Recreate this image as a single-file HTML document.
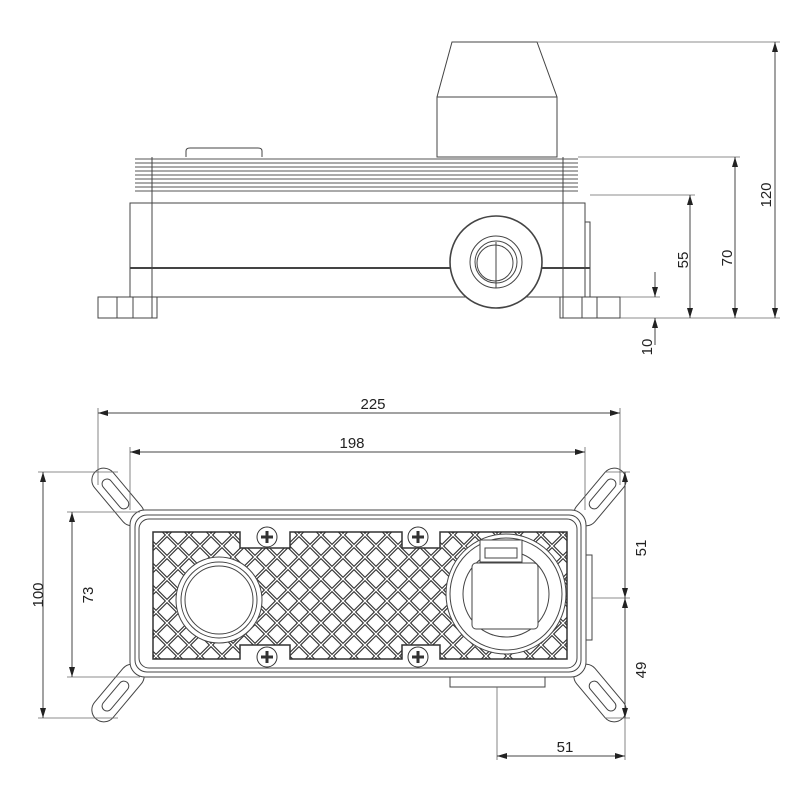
<!DOCTYPE html>
<html><head><meta charset="utf-8"><style>html,body{margin:0;padding:0;background:#fff}svg{display:block}text{font-family:"Liberation Sans",sans-serif;font-size:15px;fill:#222}</style></head><body>
<svg width="800" height="800" viewBox="0 0 800 800" xmlns="http://www.w3.org/2000/svg">
<defs>
<marker id="a" viewBox="0 0 10 6" refX="10" refY="3" markerWidth="10" markerHeight="6" orient="auto-start-reverse"><path d="M0,0L10,3L0,6z" fill="#222"/></marker>
<clipPath id="lat"><path d="M153,532H240V548H290V532H402V548H440V532H567V659H440V645H402V659H290V645H240V659H153Z"/></clipPath>
</defs>
<g fill="none" stroke="#444" stroke-width="1">
<!-- TOP VIEW -->
<path d="M452,42H537L557,97V157H437V97Z" fill="#fff"/>
<line x1="437" y1="97" x2="557" y2="97"/>
<path d="M186,157V151Q186,148 190,148H258Q262,148 262,151V157"/>
<g stroke="#555">
<line x1="135" y1="159" x2="578" y2="159"/><line x1="135" y1="163" x2="578" y2="163"/>
<line x1="135" y1="167" x2="578" y2="167"/><line x1="135" y1="171" x2="578" y2="171"/>
<line x1="135" y1="175" x2="578" y2="175"/><line x1="135" y1="179" x2="578" y2="179"/>
<line x1="135" y1="183" x2="578" y2="183"/><line x1="135" y1="187" x2="578" y2="187"/>
<line x1="135" y1="191" x2="578" y2="191"/>
</g>
<rect x="130" y="203" width="455" height="94"/>
<line x1="130" y1="268" x2="590" y2="268" stroke-width="2"/>
<line x1="152" y1="157" x2="152" y2="318"/><line x1="563" y1="157" x2="563" y2="318"/>
<rect x="585" y="222" width="5" height="75"/>
<circle cx="496" cy="262" r="46" fill="#fff" stroke-width="1.6"/>
<circle cx="496" cy="262" r="26"/><circle cx="496" cy="262" r="21"/><circle cx="495" cy="263" r="18"/>
<line x1="496" y1="242" x2="496" y2="288"/>
<rect x="98" y="297" width="59" height="21"/><line x1="117" y1="297" x2="117" y2="318"/><line x1="133" y1="297" x2="133" y2="318"/>
<rect x="560" y="297" width="60" height="21"/><line x1="582" y1="297" x2="582" y2="318"/><line x1="597" y1="297" x2="597" y2="318"/>
<g stroke="#666" stroke-width="0.8">
<line x1="537" y1="42" x2="780" y2="42"/><line x1="578" y1="157" x2="740" y2="157"/>
<line x1="590" y1="195" x2="695" y2="195"/><line x1="620" y1="297" x2="660" y2="297"/>
<line x1="620" y1="318" x2="780" y2="318"/>
</g>
<line x1="775" y1="42" x2="775" y2="318" marker-start="url(#a)" marker-end="url(#a)"/>
<line x1="735" y1="157" x2="735" y2="318" marker-start="url(#a)" marker-end="url(#a)"/>
<line x1="690" y1="195" x2="690" y2="318" marker-start="url(#a)" marker-end="url(#a)"/>
<line x1="655" y1="272" x2="655" y2="297" marker-end="url(#a)"/>
<line x1="655" y1="345" x2="655" y2="318" marker-end="url(#a)"/>

<!-- BOTTOM VIEW brackets -->
<g transform="translate(118,497) rotate(50)"><rect x="-34" y="-12" width="68" height="24" rx="12"/><rect x="-22" y="-5" width="36" height="10" rx="5"/></g>
<g transform="translate(118,693) rotate(-50)"><rect x="-34" y="-12" width="68" height="24" rx="12"/><rect x="-22" y="-5" width="36" height="10" rx="5"/></g>
<g transform="translate(600,497) rotate(-50)"><rect x="-34" y="-12" width="68" height="24" rx="12"/><rect x="-14" y="-5" width="36" height="10" rx="5"/></g>
<g transform="translate(600,693) rotate(50)"><rect x="-34" y="-12" width="68" height="24" rx="12"/><rect x="-14" y="-5" width="36" height="10" rx="5"/></g>
<rect x="586" y="555" width="6" height="85"/>
<rect x="450" y="677" width="95" height="10"/>
<rect x="130" y="510" width="456" height="167" rx="15" fill="#fff"/>
<rect x="135" y="515" width="446" height="157" rx="12"/>
<rect x="139" y="519" width="438" height="149" rx="10"/>
<g clip-path="url(#lat)">
<g stroke="#333" stroke-width="3.5">
<path id="d1" d="M-22,500L278,800M0,500L300,800M22,500L322,800M44,500L344,800M66,500L366,800M88,500L388,800M110,500L410,800M132,500L432,800M154,500L454,800M176,500L476,800M198,500L498,800M220,500L520,800M242,500L542,800M264,500L564,800M286,500L586,800M308,500L608,800M330,500L630,800M352,500L652,800M374,500L674,800M396,500L696,800M418,500L718,800M440,500L740,800M462,500L762,800M484,500L784,800M506,500L806,800M528,500L828,800M550,500L850,800"/>
<path id="d2" d="M180,500L-120,800M202,500L-98,800M224,500L-76,800M246,500L-54,800M268,500L-32,800M290,500L-10,800M312,500L12,800M334,500L34,800M356,500L56,800M378,500L78,800M400,500L100,800M422,500L122,800M444,500L144,800M466,500L166,800M488,500L188,800M510,500L210,800M532,500L232,800M554,500L254,800M576,500L276,800M598,500L298,800M620,500L320,800M642,500L342,800M664,500L364,800M686,500L386,800M708,500L408,800M730,500L430,800M752,500L452,800M774,500L474,800M796,500L496,800"/>
</g>
<g stroke="#fff" stroke-width="1.2"><use href="#d1"/><use href="#d2"/></g>
</g>
<path d="M153,532H240V548H290V532H402V548H440V532H567V659H440V645H402V659H290V645H240V659H153Z" stroke="#333" stroke-width="1.5"/>
<circle cx="219" cy="600" r="43" fill="#fff"/><circle cx="219" cy="600" r="38"/><circle cx="219" cy="600" r="34"/>
<circle cx="506" cy="594" r="60" fill="#fff"/><circle cx="506" cy="594" r="56"/><circle cx="506" cy="594" r="43"/>
<rect x="472" y="563" width="66" height="66" rx="4" fill="#fff"/>
<rect x="480" y="540" width="42" height="22" fill="#fff"/><rect x="485" y="548" width="32" height="10"/>
<g fill="#fff" stroke="#333">
<circle cx="267" cy="537" r="10"/><circle cx="418" cy="537" r="10"/><circle cx="267" cy="657" r="10"/><circle cx="418" cy="657" r="10"/>
</g>
<g stroke="#333" stroke-width="3"><path d="M261,537h12M267,531v12M412,537h12M418,531v12M261,657h12M267,651v12M412,657h12M418,651v12"/></g>
<g stroke="#666" stroke-width="0.8">
<line x1="98" y1="408" x2="98" y2="485"/><line x1="620" y1="408" x2="620" y2="485"/>
<line x1="130" y1="447" x2="130" y2="510"/><line x1="585" y1="447" x2="585" y2="510"/>
<line x1="38" y1="472" x2="118" y2="472"/><line x1="38" y1="718" x2="118" y2="718"/>
<line x1="67" y1="512" x2="140" y2="512"/><line x1="67" y1="677" x2="140" y2="677"/>
<line x1="605" y1="472" x2="630" y2="472"/><line x1="592" y1="598" x2="630" y2="598"/><line x1="605" y1="718" x2="630" y2="718"/>
<line x1="497" y1="687" x2="497" y2="760"/><line x1="625" y1="718" x2="625" y2="760"/>
</g>
<line x1="98" y1="413" x2="620" y2="413" marker-start="url(#a)" marker-end="url(#a)"/>
<line x1="130" y1="452" x2="585" y2="452" marker-start="url(#a)" marker-end="url(#a)"/>
<line x1="43" y1="472" x2="43" y2="718" marker-start="url(#a)" marker-end="url(#a)"/>
<line x1="72" y1="512" x2="72" y2="677" marker-start="url(#a)" marker-end="url(#a)"/>
<line x1="625" y1="472" x2="625" y2="598" marker-start="url(#a)" marker-end="url(#a)"/>
<line x1="625" y1="598" x2="625" y2="718" marker-start="url(#a)" marker-end="url(#a)"/>
<line x1="497" y1="756" x2="625" y2="756" marker-start="url(#a)" marker-end="url(#a)"/>
</g>
<text x="373" y="409" text-anchor="middle">225</text>
<text x="352" y="448" text-anchor="middle">198</text>
<text x="565" y="752" text-anchor="middle">51</text>
<text transform="translate(43,595) rotate(-90)" text-anchor="middle">100</text>
<text transform="translate(93,595) rotate(-90)" text-anchor="middle">73</text>
<text transform="translate(646,548) rotate(-90)" text-anchor="middle">51</text>
<text transform="translate(646,670) rotate(-90)" text-anchor="middle">49</text>
<text transform="translate(771,195) rotate(-90)" text-anchor="middle">120</text>
<text transform="translate(732,258) rotate(-90)" text-anchor="middle">70</text>
<text transform="translate(688,260) rotate(-90)" text-anchor="middle">55</text>
<text transform="translate(652,347) rotate(-90)" text-anchor="middle">10</text>
</svg>
</body></html>
